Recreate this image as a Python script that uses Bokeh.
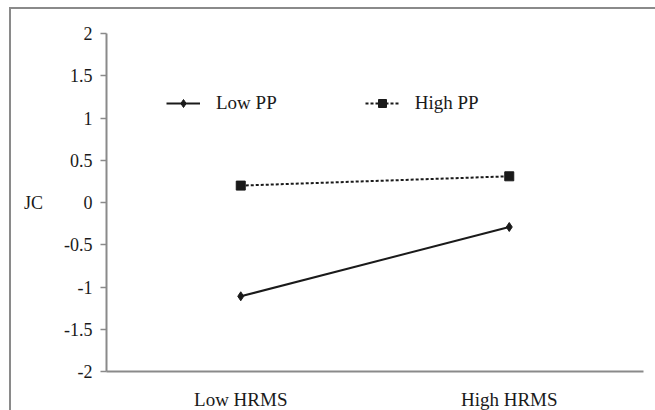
from bokeh.plotting import figure
from bokeh.models import Legend, LegendItem, FixedTicker, Range1d
from bokeh.embed import file_html
from bokeh.resources import INLINE

categories = ["Low HRMS", "High HRMS"]
low_pp = [-1.11, -0.29]
high_pp = [0.20, 0.31]
y_ticks = [-2, -1.5, -1, -0.5, 0, 0.5, 1, 1.5, 2]
y_tick_labels = ["-2", "-1.5", "-1", "-0.5", "0", "0.5", "1", "1.5", "2"]

FONT = "Liberation Serif"
INK = "#1a1a1a"
AXIS = "#8a8a8a"

p = figure(width=646, height=403, x_range=categories, y_range=Range1d(-2, 2),
           output_backend="svg", toolbar_location=None,
           min_border_left=95, min_border_right=14, min_border_top=24, min_border_bottom=36)
p.styles = {"margin-left": "9px", "margin-top": "7px",
            "border-left": "2px solid #8a8a8a", "border-top": "2px solid #8a8a8a",
            "box-sizing": "border-box"}
p.outline_line_color = None
p.xgrid.visible = False
p.ygrid.visible = False
p.background_fill_color = "white"
p.border_fill_color = "white"

r1 = p.line(categories, low_pp, line_color=INK, line_width=2)
m1 = p.scatter(categories, low_pp, marker="diamond", size=9, color=INK)
r2 = p.line(categories, high_pp, line_color=INK, line_width=2, line_dash="3 2")
m2 = p.scatter(categories, high_pp, marker="square", size=9, color=INK)

legend = Legend(items=[LegendItem(label="Low PP", renderers=[r1, m1]),
                       LegendItem(label="High PP", renderers=[r2, m2])],
                orientation="horizontal", location=(60, 257),
                glyph_width=34, glyph_height=20, label_standoff=16, spacing=88,
                label_text_font=FONT, label_text_font_size="19px", label_text_color=INK,
                border_line_color=None, background_fill_alpha=0, padding=4, margin=0)
p.add_layout(legend, "center")

ya = p.yaxis[0]
ya.ticker = FixedTicker(ticks=y_ticks)
ya.major_label_overrides = {t: l for t, l in zip(y_ticks, y_tick_labels)}
ya.minor_tick_line_color = None
ya.major_tick_in = 0
ya.major_tick_out = 6
ya.axis_line_color = AXIS
ya.axis_line_width = 2
ya.major_tick_line_color = AXIS
ya.major_tick_line_width = 1.5
ya.major_label_text_font = FONT
ya.major_label_text_font_size = "18px"
ya.major_label_text_color = INK
ya.major_label_standoff = 8
ya.axis_label = "JC"
ya.axis_label_orientation = "horizontal"
ya.axis_label_text_font = FONT
ya.axis_label_text_font_style = "normal"
ya.axis_label_text_font_size = "18px"
ya.axis_label_text_color = INK
ya.axis_label_standoff = 18

xa = p.xaxis[0]
xa.axis_line_color = AXIS
xa.axis_line_width = 2
xa.major_tick_line_color = None
xa.minor_tick_line_color = None
xa.major_label_text_font = FONT
xa.major_label_text_font_size = "19px"
xa.major_label_text_color = INK
xa.major_label_standoff = 11

open("out.html", "w").write(file_html(p, INLINE))
